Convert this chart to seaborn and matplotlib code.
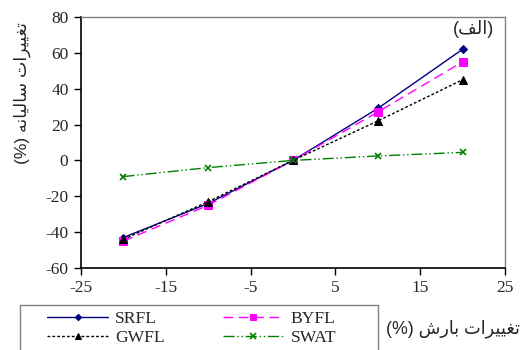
import matplotlib
matplotlib.use("Agg")
import matplotlib.pyplot as plt
from matplotlib.patches import Rectangle
import seaborn as sns
import pandas as pd

# Rainfall change scenarios (%) and annual change of each flow component (%)
rain_change = [-20, -10, 0, 10, 20]
srfl = [-43, -24, 0, 29, 62]
byfl = [-45, -25, 0, 27, 55]
gwfl = [-44, -23, 0, 22, 45]
swat = [-9, -4, 0, 2.5, 4.5]

series_names = ["SRFL", "BYFL", "GWFL", "SWAT"]
series_values = [srfl, byfl, gwfl, swat]

x_ticks = [-25, -15, -5, 5, 15, 25]
y_ticks = [-60, -40, -20, 0, 20, 40, 60, 80]

y_title = "تغییرات سالیانه (%)"
x_title = "تغییرات بارش (%)"
panel_tag = "(الف)"

# --- minimal Arabic/Persian shaping (matplotlib draws glyphs without joining) ---
FORMS = {
    "ا": ("\uFE8D", "\uFE8E", None, None),
    "ب": ("\uFE8F", "\uFE90", "\uFE91", "\uFE92"),
    "ت": ("\uFE95", "\uFE96", "\uFE97", "\uFE98"),
    "ر": ("\uFEAD", "\uFEAE", None, None),
    "س": ("\uFEB1", "\uFEB2", "\uFEB3", "\uFEB4"),
    "ش": ("\uFEB5", "\uFEB6", "\uFEB7", "\uFEB8"),
    "غ": ("\uFECD", "\uFECE", "\uFECF", "\uFED0"),
    "ف": ("\uFED1", "\uFED2", "\uFED3", "\uFED4"),
    "ل": ("\uFEDD", "\uFEDE", "\uFEDF", "\uFEE0"),
    "ن": ("\uFEE5", "\uFEE6", "\uFEE7", "\uFEE8"),
    "ه": ("\uFEE9", "\uFEEA", "\uFEEB", "\uFEEC"),
    "ی": ("\uFBFC", "\uFBFD", "\uFBFE", "\uFBFF"),
}
MIRROR = {"(": ")", ")": "("}


def rtl(text):
    glyphs = []
    for i, ch in enumerate(text):
        if ch not in FORMS:
            glyphs.append(ch)
            continue
        iso, fin, ini, med = FORMS[ch]
        prev = text[i - 1] if i > 0 else ""
        nxt = text[i + 1] if i + 1 < len(text) else ""
        join_prev = prev in FORMS and FORMS[prev][2] is not None
        join_next = ini is not None and nxt in FORMS
        if join_prev and join_next:
            glyphs.append(med)
        elif join_prev:
            glyphs.append(fin)
        elif join_next:
            glyphs.append(ini)
        else:
            glyphs.append(iso)
    return "".join(MIRROR.get(g, g) for g in reversed(glyphs))


sns.set_theme(style="white")
plt.rcParams["font.family"] = ["Liberation Serif", "DejaVu Sans"]
plt.rcParams["axes.unicode_minus"] = False
arabic_family = ["Liberation Sans", "DejaVu Sans"]

df = pd.DataFrame({
    "rain": rain_change * len(series_names),
    "change": [v for vals in series_values for v in vals],
    "series": [n for n in series_names for _ in rain_change],
})

colors = {"SRFL": "#000080", "BYFL": "#FF00FF", "GWFL": "#000000", "SWAT": "#008000"}
markers = {"SRFL": "D", "BYFL": "s", "GWFL": "^", "SWAT": "x"}
msizes = {"SRFL": 4, "BYFL": 6, "GWFL": 6, "SWAT": 5}
dashes = {"SRFL": (None, None), "BYFL": (7, 4), "GWFL": (2, 1.5), "SWAT": (8, 2, 1, 2, 1, 2)}

fig = plt.figure(figsize=(5.22, 3.5), dpi=100)
ax = fig.add_axes([81 / 522, 1 - 268 / 350, (505 - 81) / 522, (268 - 17) / 350])

line_of = {}
for name in series_names:
    sub = df[df["series"] == name]
    sns.lineplot(data=sub, x="rain", y="change", ax=ax, color=colors[name],
                 marker=markers[name], markersize=msizes[name],
                 markeredgecolor=colors[name], linewidth=1.0, label=name,
                 legend=False)
    line = ax.lines[-1]
    if dashes[name][0] is not None:
        line.set_dashes(dashes[name])
    if name == "SWAT":
        line.set_markeredgewidth(1.2)
    line_of[name] = line

ax.set_xlim(-25, 25)
ax.set_ylim(-60, 80)
ax.set_xticks(x_ticks)
ax.set_yticks(y_ticks)
ax.tick_params(axis="both", which="both", direction="out", length=5, width=1,
               color="black", labelsize=12.5, pad=4, left=True, bottom=True)
ax.set_xlabel("")
ax.set_ylabel("")
for side in ("left", "bottom"):
    ax.spines[side].set_color("black")
    ax.spines[side].set_linewidth(1.2)
for side in ("top", "right"):
    ax.spines[side].set_color("#808080")
    ax.spines[side].set_linewidth(1.0)

ax.text(0.975, 0.99, rtl(panel_tag), transform=ax.transAxes, ha="right",
        va="top", fontsize=13, family=arabic_family)

fig.text(22 / 522, 1 - 93 / 350, rtl(y_title), rotation=90, ha="center",
         va="center", fontsize=12.5, family=arabic_family)
fig.text(520 / 522, 1 - 329 / 350, rtl(x_title), ha="right", va="center",
         fontsize=12.8, family=arabic_family)

# legend box drawn in figure coordinates, slightly past the bottom edge
fig.patches.append(Rectangle((20 / 522, -3 / 350), 358 / 522, 48 / 350,
                             transform=fig.transFigure, fill=False,
                             edgecolor="#808080", linewidth=1.0))

# two rows: SRFL | BYFL on top, GWFL | SWAT below (legend fills column-wise)
order = ["SRFL", "GWFL", "BYFL", "SWAT"]
leg = fig.legend([line_of[n] for n in order], order, loc="upper left",
                 bbox_to_anchor=(47 / 522, 1 - 311 / 350),
                 ncol=2, fontsize=12.6, handlelength=3.5,
                 handletextpad=0.4, columnspacing=3.3, borderpad=0,
                 borderaxespad=0, labelspacing=0.15, frameon=False,
                 markerscale=0.8)

fig.savefig("out.png", dpi=100, facecolor="white")
